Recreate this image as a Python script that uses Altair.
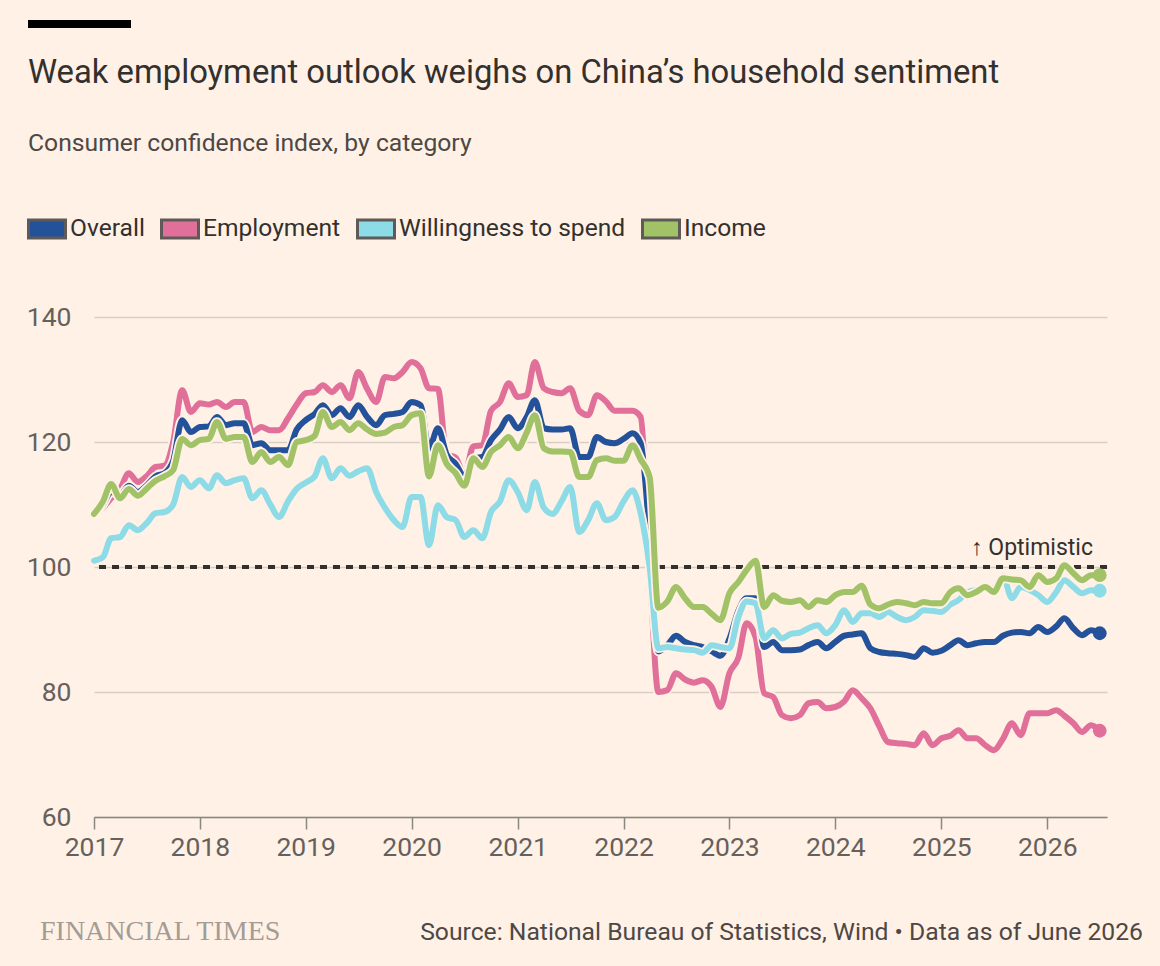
import altair as alt
import pandas as pd

# ---------------- data (monthly, Jan 2017 onwards) ----------------
overall = [108.5, 110, 112, 111.5, 113, 112, 113, 114.5, 115, 117,
           123.5, 121.6, 122.4, 122.5, 124, 122.7, 123, 123, 119.5, 119.8,
           118.7, 118.7, 118.7, 122, 123.5, 124.5, 125.9, 124.3, 125.4, 124,
           125.9, 124, 122.7, 124.3, 124.5, 124.8, 126.4, 125.9, 119, 122.2,
           118, 116.5, 114.5, 117.4, 117.6, 120.3, 122, 124, 122.2, 124,
           126.7, 122.2, 122, 122, 122.2, 117.6, 117.6, 120.8, 120, 119.8,
           120.5, 121.4, 119.8, 105, 86.5, 87.5, 89, 88, 87.5, 87.2,
           86.5, 85.8, 88.5, 93, 95, 95, 87.2, 88, 86.7, 86.7,
           86.8, 87.5, 88, 87, 88, 89, 89.2, 89.4, 87, 86.4,
           86.2, 86.1, 85.9, 85.6, 87, 86.3, 86.6, 87.5, 88.3, 87.5,
           87.8, 88, 88, 89, 89.5, 89.6, 89.4, 90.4, 89.6, 90.5,
           91.8, 90.2, 89.1, 89.9, 89.4]

employment = [108.5, 109.5, 111, 112.5, 115, 113.6, 114.5, 116, 116.2, 120,
              128.3, 124.8, 126.2, 126, 126.4, 125.6, 126.4, 126.4, 121.6, 122.4,
              121.9, 121.9, 123.8, 126, 127.8, 128, 129.1, 128, 129.1, 127,
              131.2, 128.5, 126.4, 130.4, 130.2, 131.2, 132.8, 131.8, 128.6, 128.5,
              118, 117.5, 114.7, 119.3, 119.5, 125, 126.4, 129.4, 127.2, 127.5,
              132.8, 128.6, 128, 127.8, 128.6, 125, 124.3, 127.5, 126.5, 125,
              125, 125, 124, 100, 80, 80.3, 83, 82, 81.5, 81.9,
              80.8, 77.6, 83, 85.5, 91, 88.8, 79.8, 79.2, 76.3, 75.8,
              76.3, 78.2, 78.4, 77.4, 77.6, 78.5, 80.3, 79, 77.4, 74.5,
              72, 71.8, 71.7, 71.5, 73.4, 71.5, 72.6, 73, 73.9, 72.6,
              72.6, 71.5, 70.7, 72.5, 75, 73.1, 76.6, 76.6, 76.6, 77.1,
              76.2, 75, 73.6, 74.7, 73.8]

willingness = [101, 101.6, 104.6, 104.8, 106.7, 105.9, 107, 108.6, 108.8, 110,
               114.4, 112.8, 113.9, 112.6, 114.7, 113.4, 113.9, 114.2, 111, 112.3,
               110, 108, 110.5, 112.5, 113.5, 114.5, 117.4, 114.2, 115.8, 114.6,
               115.3, 115.8, 112, 109.5, 107.5, 106.4, 111.2, 111.2, 103.5, 109.9,
               108, 107.5, 104.8, 105.9, 104.6, 108.8, 110.5, 113.9, 112, 109.1,
               113.6, 109.5, 108.5, 110.5, 112.8, 105.6, 107.5, 110.2, 107.5, 108,
               110.5, 112.3, 108.6, 100, 87, 87.2, 87, 86.8, 86.7, 86.3,
               87.5, 87.2, 87, 92, 94.5, 94.2, 88.6, 89.9, 88.6, 89.3,
               89.5, 90.2, 90.7, 89.4, 90.7, 93.1, 91.2, 92.6, 92.6, 92,
               92.8, 92, 91.5, 92, 93.1, 93, 92.8, 94, 94.7, 96,
               96.3, 96.5, 96.6, 98.5, 95, 96.8, 96.3, 95.5, 94.4, 96,
               97.9, 96.8, 95.8, 96.3, 96.2]

income = [108.5, 110.5, 113.3, 111, 112.5, 111.4, 112.5, 113.8, 114.5, 115.5,
          120.5, 119.5, 120.3, 120.5, 123.2, 120.5, 120.8, 120.8, 116.8, 118.4,
          116.8, 117.6, 116.3, 120, 120.3, 121, 124.8, 122.4, 123.2, 121.9,
          123, 122, 121.3, 121.5, 122.4, 122.7, 124.3, 124.6, 114.5, 119.5,
          116.5, 115, 113, 117.4, 116, 118.4, 119.5, 120.8, 119, 121.5,
          124.3, 119, 118.5, 118.5, 118.4, 114.4, 114.4, 117.1, 117.4, 117,
          117, 119.5, 117.2, 114.4, 93.5, 94.5, 96.8, 95, 93.6, 93.6,
          92.5, 91.5, 95.8, 97.6, 99.5, 101, 93.6, 95.5, 94.6, 94.4,
          94.7, 93.6, 94.7, 94.4, 95.5, 96, 96, 97, 94, 93.4,
          94, 94.4, 94.2, 93.9, 94.4, 94.2, 94.2, 96, 96.6, 95.5,
          96, 96.8, 96, 98.2, 98, 97.9, 96.8, 98.7, 97.6, 98.2,
          100.3, 99, 97.9, 98.7, 98.7]

series_names = ["Overall", "Employment", "Willingness to spend", "Income"]
series_colors = ["#24529a", "#e0709a", "#8ddbe6", "#a1c266"]
draw_order = ["Employment", "Overall", "Willingness to spend", "Income"]
year_ticks = list(range(2017, 2027))

title_text = "Weak employment outlook weighs on China\u2019s household sentiment"
subtitle_text = "Consumer confidence index, by category"
source_text = "Source: National Bureau of Statistics, Wind \u2022 Data as of June 2026"
brand_text = "FINANCIAL TIMES"
note_text = "\u2191 Optimistic"

# ---------------- build table ----------------
dates = pd.date_range("2017-01-01", periods=len(overall), freq="MS")
values = {"Overall": overall, "Employment": employment,
          "Willingness to spend": willingness, "Income": income}
rows = []
for name in series_names:
    for d, v in zip(dates, values[name]):
        rows.append({"date": d.strftime("%Y-%m-%d"), "series": name, "value": v})
df = pd.DataFrame(rows)
last = df.groupby("series", sort=False).tail(1)

BG = "#fff1e5"
FONT = "Roboto"
TEXT = "#33302e"
MUTED = "#66605c"
color_of = dict(zip(series_names, series_colors))

x_enc = alt.X(
    "date:T",
    scale=alt.Scale(domain=[alt.DateTime(year=2017, month=1, date=1),
                            alt.DateTime(year=2026, month=7, date=26)]),
    axis=alt.Axis(values=[alt.DateTime(year=y, month=1, date=1) for y in year_ticks],
                  format="%Y", title=None, grid=False, domain=True,
                  domainColor="#8c8681", domainWidth=1.5, tickColor="#8c8681",
                  tickWidth=1.5, tickSize=12, labelFontSize=26.5, labelFont=FONT,
                  labelColor=MUTED, labelPadding=5, labelFlush=False),
)
y_enc = alt.Y(
    "value:Q",
    scale=alt.Scale(domain=[60, 140], nice=False, zero=False),
    axis=alt.Axis(values=[60, 80, 100, 120, 140], title=None, domain=False,
                  ticks=False, grid=True, gridColor="#d8cec4", gridWidth=1.5,
                  labelFontSize=26.5, labelFont=FONT, labelColor=MUTED,
                  labelPadding=23),
)

base = alt.Chart(df)

layers = []
# dashed reference line at 100
layers.append(
    base.mark_rule(color=TEXT, strokeWidth=2.5, strokeDash=[7, 6])
    .encode(y=alt.datum(100))
)
for name in draw_order:
    sub = base.transform_filter(alt.datum.series == name)
    layers.append(
        sub.mark_line(color=BG, strokeWidth=9.5, interpolate="monotone",
                      strokeCap="round", strokeJoin="round")
        .encode(x=x_enc, y=y_enc)
    )
    layers.append(
        sub.mark_line(color=color_of[name], strokeWidth=6, interpolate="monotone",
                      strokeCap="round", strokeJoin="round")
        .encode(x=x_enc, y=y_enc)
    )

legend = alt.Legend(
    orient="none", legendX=-67, legendY=-108, direction="horizontal", title=None,
    symbolType="M-1,-0.486L1,-0.486L1,0.486L-1,0.486Z", symbolSize=1369,
    symbolStrokeColor="#5f5a57", symbolStrokeWidth=3, symbolOpacity=1,
    labelFontSize=24.6, labelFont=FONT, labelColor=TEXT, labelOffset=3,
    labelLimit=0, columnPadding=10,
)
layers.append(
    alt.Chart(last).mark_circle(size=190, opacity=1)
    .encode(x=x_enc, y=y_enc,
            fill=alt.Fill("series:N",
                          scale=alt.Scale(domain=series_names, range=series_colors),
                          legend=legend))
)

ann = pd.DataFrame({"t": [note_text]})
layers.append(
    alt.Chart(ann).mark_text(align="right", baseline="bottom", dy=-7, fontSize=23,
                             font=FONT, color=TEXT)
    .encode(text="t:N", x=alt.value(999), y=alt.datum(100))
)

heads = pd.DataFrame({"title": [title_text], "subtitle": [subtitle_text],
                      "src": [source_text], "brand": [brand_text]})
# title and subtitle
layers.append(
    alt.Chart(heads).mark_text(align="left", baseline="middle", fontSize=32.8,
                               font=FONT, color=TEXT)
    .encode(text="title:N", x=alt.value(-66), y=alt.value(-244))
)
layers.append(
    alt.Chart(heads).mark_text(align="left", baseline="middle", fontSize=24.7,
                               font=FONT, color="#4d4845")
    .encode(text="subtitle:N", x=alt.value(-66), y=alt.value(-173))
)
# footer
layers.append(
    alt.Chart(heads).mark_text(align="right", baseline="middle", fontSize=24.7,
                               font=FONT, color="#4d4845")
    .encode(text="src:N", x=alt.value(1049), y=alt.value(616))
)
layers.append(
    alt.Chart(heads).mark_text(align="left", baseline="middle", fontSize=28,
                               font="Liberation Serif", color="#a39c96")
    .encode(text="brand:N", x=alt.value(-54), y=alt.value(615))
)
# top black bar
layers.append(
    alt.Chart(heads).mark_rule(color="#000000", strokeWidth=8)
    .encode(x=alt.value(-66), x2=alt.value(37), y=alt.value(-293))
)

chart = (
    alt.layer(*layers)
    .properties(
        width=1013, height=500,
        padding={"left": 94, "top": 317, "right": 53, "bottom": 149},
        autosize=alt.AutoSizeParams(type="none"),
        background=BG,
    )
    .configure_view(stroke=None)
)

chart.save("out.html", embed_options={"renderer": "svg", "actions": False})
